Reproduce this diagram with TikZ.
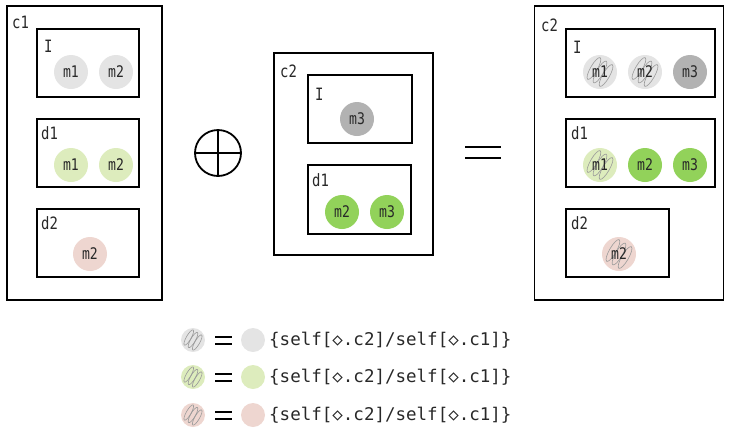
\documentclass[tikz,border=0pt]{standalone}
\usepackage{fontspec}
\newfontfamily\mono{DejaVu Sans Mono}
\newfontfamily\tallmono[FakeStretch=0.82]{DejaVu Sans Mono}
\usetikzlibrary{calc}
\definecolor{lgray}{RGB}{228,228,228}
\definecolor{dgray}{RGB}{178,178,178}
\definecolor{lgreen}{RGB}{221,236,189}
\definecolor{dgreen}{RGB}{146,210,90}
\definecolor{lpink}{RGB}{238,214,208}
\definecolor{ink}{RGB}{40,40,40}
% scribble over a circle node: #1 node, #2 scale
\newcommand{\scribble}[2]{%
  \begin{scope}[shift={(#1)}, rotate=-30, scale=#2]
    \foreach \dx in {-7,0,7}
      \draw[scrib] (\dx,0) ellipse (3.4 and 12.5);
  \end{scope}}
\begin{document}
\begin{tikzpicture}[x=1pt, y=-1pt,
            outer/.style={draw=black, line width=1.4pt, inner sep=0pt},
            box/.style={draw=black, line width=1.8pt, inner sep=0pt, minimum height=68pt},
            lbl/.style={anchor=west, inner sep=0pt, text=ink, font=\tallmono\fontsize{17}{17}\selectfont},
            mem/.style={circle, minimum size=34pt, inner sep=0pt, text=ink, font=\tallmono\fontsize{16}{16}\selectfont},
            key/.style={circle, minimum size=24pt, inner sep=0pt},
            scrib/.style={draw=gray!80, line width=0.6pt},
            sign/.style={line width=2pt},
        ]
        \useasboundingbox (0,0) rectangle (729,429);

        % left panel
        \node[outer, minimum width=155pt, minimum height=294pt] (c1) at (84.5, 153) {};
        \node[lbl] (c1t) at (12, 22) {c1};
        \node[box, minimum width=102pt] (c1i) at (88, 63) {};
        \node[lbl] (c1it) at (44, 46) {I};
        \node[mem, fill=lgray] (c1im1) at (71, 72) {m1};
        \node[mem, fill=lgray] (c1im2) at (116, 72) {m2};
        \node[box, minimum width=102pt] (c1d1) at (88, 153) {};
        \node[lbl] (c1d1t) at (41, 133) {d1};
        \node[mem, fill=lgreen] (c1d1m1) at (71, 165) {m1};
        \node[mem, fill=lgreen] (c1d1m2) at (116, 165) {m2};
        \node[box, minimum width=102pt] (c1d2) at (88, 243) {};
        \node[lbl] (c1d2t) at (41, 223) {d2};
        \node[mem, fill=lpink] (c1d2m2) at (90, 254) {m2};

        % plus
        \node[circle, draw, line width=1.8pt, minimum size=46pt, inner sep=0pt] (plus) at (218, 153) {};
        \draw[line width=1.8pt] (plus.north) -- (plus.south);
        \draw[line width=1.8pt] (plus.west) -- (plus.east);

        % middle panel
        \node[outer, minimum width=159pt, minimum height=202pt] (c2) at (353.5, 154) {};
        \node[lbl] (c2t) at (280, 71) {c2};
        \node[box, minimum width=104pt] (c2i) at (360, 109) {};
        \node[lbl] (c2it) at (315, 94) {I};
        \node[mem, fill=dgray] (c2im3) at (357, 119) {m3};
        \node[box, minimum width=103pt, minimum height=69pt] (c2d1) at (359.5, 199.5) {};
        \node[lbl] (c2d1t) at (312, 180) {d1};
        \node[mem, fill=dgreen] (c2d1m2) at (342, 212) {m2};
        \node[mem, fill=dgreen] (c2d1m3) at (387, 212) {m3};

        % equals
        \coordinate (eqa) at (465, 147);
        \coordinate (eqb) at (501, 147);
        \coordinate (eqc) at (465, 158);
        \coordinate (eqd) at (501, 158);
        \draw[line width=2pt] (eqa) -- (eqb);
        \draw[line width=2pt] (eqc) -- (eqd);

        % right panel
        \node[outer, minimum width=189pt, minimum height=294pt] (r2) at (629, 153) {};
        \node[lbl] (r2t) at (541, 25) {c2};
        \node[box, minimum width=149pt] (r2i) at (640.5, 63) {};
        \node[lbl] (r2it) at (573, 47) {I};
        \node[mem, fill=lgray] (r2im1) at (600, 72) {};
        \node[mem, fill=lgray] (r2im2) at (645, 72) {};
        \node[mem, fill=dgray] (r2im3) at (690, 72) {m3};
        \node[box, minimum width=149pt] (r2d1) at (640.5, 153) {};
        \node[lbl] (r2d1t) at (571, 133) {d1};
        \node[mem, fill=lgreen] (r2d1m1) at (600, 165) {};
        \node[mem, fill=dgreen] (r2d1m2) at (645, 165) {m2};
        \node[mem, fill=dgreen] (r2d1m3) at (690, 165) {m3};
        \node[box, minimum width=103pt] (r2d2) at (617.5, 243) {};
        \node[lbl] (r2d2t) at (571, 223) {d2};
        \node[mem, fill=lpink] (r2d2m2) at (619, 254) {};
        \scribble{r2im1}{1}
        \scribble{r2im2}{1}
        \scribble{r2d1m1}{1}
        \scribble{r2d2m2}{1}
        \node[mem] (r2im1t) at (r2im1) {m1};
        \node[mem] (r2im2t) at (r2im2) {m2};
        \node[mem] (r2d1m1t) at (r2d1m1) {m1};
        \node[mem] (r2d2m2t) at (r2d2m2) {m2};

        % legend
        \foreach \y/\c [count=\i] in {340/lgray, 377/lgreen, 415/lpink} {
            \node[key, fill=\c] (ka\i) at (193, \y) {};
            \scribble{ka\i}{0.7}
            \coordinate (ea\i) at (215, \y-3.5);
            \coordinate (eb\i) at (232, \y-3.5);
            \coordinate (ec\i) at (215, \y+3.5);
            \coordinate (ed\i) at (232, \y+3.5);
            \draw[sign] (ea\i) -- (eb\i);
            \draw[sign] (ec\i) -- (ed\i);
            \node[key, fill=\c] (kb\i) at (253, \y) {};
            \node[anchor=west, inner sep=0pt, text=ink, font=\mono\fontsize{17.5}{17.5}\selectfont] (kt\i) at (269, \y) {\{self[◇.c2]/self[◇.c1]\}};
        }
    \end{tikzpicture}
\end{document}
